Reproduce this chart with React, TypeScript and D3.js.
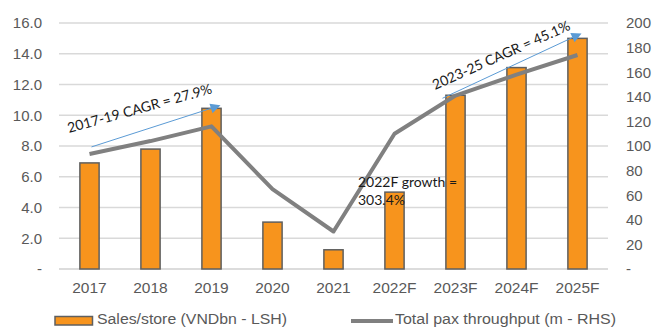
import React from "react";
import * as d3 from "d3";

// Chart data
const categories = ["2017", "2018", "2019", "2020", "2021", "2022F", "2023F", "2024F", "2025F"];
const salesPerStore = [6.9, 7.8, 10.45, 3.05, 1.25, 5.0, 11.3, 13.1, 15.0];
const paxThroughput = [93.5, 104, 116, 65, 30.5, 110, 141, 158, 174];
const leftTicks = [0, 2, 4, 6, 8, 10, 12, 14, 16];
const rightTicks = [0, 20, 40, 60, 80, 100, 120, 140, 160, 180, 200];

const W = 654;
const H = 327;
const margin = { left: 59, right: 46, top: 23, bottom: 58 };

const AXIS_FONT = "'Liberation Sans', Arial, sans-serif";
const NOTE_FONT = "Lato, 'Open Sans', sans-serif";

export default function App() {
  const x = d3
    .scaleBand<string>()
    .domain(categories)
    .range([margin.left, W - margin.right])
    .padding(0);
  const yL = d3.scaleLinear().domain([0, 16]).range([H - margin.bottom, margin.top]);
  const yR = d3.scaleLinear().domain([0, 200]).range([H - margin.bottom, margin.top]);
  const barW = x.bandwidth() * 0.315;
  const cx = (c: string) => (x(c) as number) + x.bandwidth() / 2;

  const line = d3
    .line<number>()
    .x((_, i) => cx(categories[i]))
    .y((d) => yR(d));

  const fmtL = (v: number) => (v === 0 ? "-" : v.toFixed(1));
  const fmtR = (v: number) => (v === 0 ? "-" : String(v));

  // CAGR arrows, anchored on the data they describe
  const a1 = { x1: cx("2017") + 2, y1: yL(salesPerStore[0]) - 16, x2: cx("2019") + 9, y2: yL(salesPerStore[2]) - 3 };
  const a2 = { x1: cx("2023F") - 13, y1: yL(salesPerStore[6]) + 3, x2: cx("2025F") + 4, y2: yL(salesPerStore[8]) - 5 };

  const arrow = (a: { x1: number; y1: number; x2: number; y2: number }) => {
    const ang = Math.atan2(a.y2 - a.y1, a.x2 - a.x1);
    const len = 10;
    const wid = 5;
    const bx = a.x2 - len * Math.cos(ang);
    const by = a.y2 - len * Math.sin(ang);
    const px = -Math.sin(ang) * wid;
    const py = Math.cos(ang) * wid;
    return (
      <g>
        <line x1={a.x1} y1={a.y1} x2={bx} y2={by} stroke="#5B9BD5" strokeWidth={1} />
        <path d={`M${a.x2},${a.y2}L${bx + px},${by + py}L${bx - px},${by - py}Z`} fill="#5B9BD5" />
      </g>
    );
  };

  return (
    <svg
      width={W}
      height={H}
      style={{ position: "absolute", left: 0, top: 0, background: "#fff" }}
    >
      {/* gridlines */}
      {leftTicks.map((t) => (
        <line
          key={"g" + t}
          x1={margin.left}
          x2={W - margin.right}
          y1={yL(t)}
          y2={yL(t)}
          stroke={t === 0 ? "#d0d0d0" : "#d9d9d9"}
          strokeWidth={1.5}
        />
      ))}

      {/* left axis labels */}
      {leftTicks.map((t) => (
        <text
          key={"l" + t}
          x={42}
          y={yL(t)}
          dy="0.36em"
          textAnchor="end"
          fontFamily={AXIS_FONT}
          fontSize={15}
          fill="#595959"
        >
          {fmtL(t)}
        </text>
      ))}

      {/* right axis labels */}
      {rightTicks.map((t) => (
        <text
          key={"r" + t}
          x={626}
          y={yR(t)}
          dy="0.36em"
          textAnchor="start"
          fontFamily={AXIS_FONT}
          fontSize={15}
          fill="#595959"
        >
          {fmtR(t)}
        </text>
      ))}

      {/* bars */}
      {salesPerStore.map((v, i) => (
        <rect
          key={"b" + i}
          x={cx(categories[i]) - barW / 2}
          y={yL(v)}
          width={barW}
          height={yL(0) - yL(v)}
          fill="#F7941D"
          stroke="#5f5f5f"
          strokeWidth={1.5}
        />
      ))}

      {/* pax line */}
      <path d={line(paxThroughput) || ""} fill="none" stroke="#808080" strokeWidth={4} strokeLinejoin="round" />

      {/* x labels */}
      {categories.map((c) => (
        <text
          key={"x" + c}
          x={cx(c)}
          y={293}
          textAnchor="middle"
          fontFamily={AXIS_FONT}
          fontSize={15.5}
          fill="#595959"
        >
          {c}
        </text>
      ))}

      {/* annotations */}
      {arrow(a1)}
      {arrow(a2)}
      <text
        transform={`translate(69,133) rotate(-15.5)`}
        fontFamily={NOTE_FONT}
        fontSize={14}
        fill="#1a1a1a"
      >
        2017-19 CAGR = 27.9%
      </text>
      <text
        transform={`translate(435,90) rotate(-24)`}
        fontFamily={NOTE_FONT}
        fontSize={14}
        fill="#1a1a1a"
      >
        2023-25 CAGR = 45.1%
      </text>
      <text x={358} y={187} fontFamily={NOTE_FONT} fontSize={14} fill="#1a1a1a">
        2022F growth =
      </text>
      <text x={358} y={205} fontFamily={NOTE_FONT} fontSize={14} fill="#1a1a1a">
        303.4%
      </text>

      {/* legend */}
      <rect x={55} y={316.5} width={37.5} height={8.5} fill="#F7941D" stroke="#5f5f5f" strokeWidth={1.5} />
      <text x={97} y={324} fontFamily={AXIS_FONT} fontSize={15.5} fill="#595959" textLength={190} lengthAdjust="spacingAndGlyphs">
        Sales/store (VNDbn - LSH)
      </text>
      <line x1={351} x2={393} y1={321} y2={321} stroke="#808080" strokeWidth={4} />
      <text x={395} y={324} fontFamily={AXIS_FONT} fontSize={15.5} fill="#595959" textLength={221} lengthAdjust="spacingAndGlyphs">
        Total pax throughput (m - RHS)
      </text>
    </svg>
  );
}
